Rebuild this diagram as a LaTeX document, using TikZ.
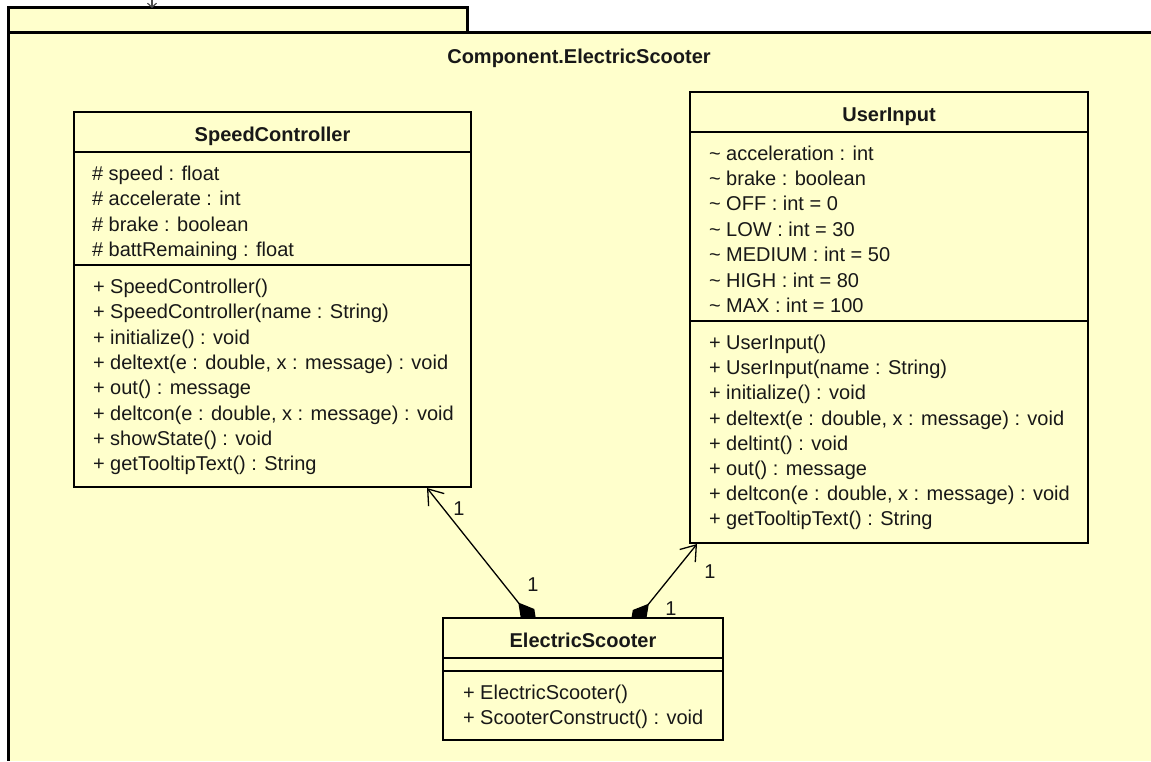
\documentclass[tikz,border=0pt]{standalone}
\usepackage{fontspec}
\setmainfont{Liberation Sans}
\usetikzlibrary{arrows.meta,calc}
\definecolor{pkgfill}{RGB}{255,255,204}
\definecolor{ink}{RGB}{24,24,24}

\begin{document}
\begin{tikzpicture}[x=1pt,y=-1pt,
  every node/.style={inner sep=0pt, outer sep=0pt, text=ink},
  pkgbox/.style={draw=black, line width=3pt, fill=pkgfill, anchor=north west},
  pkgline/.style={draw=black, line width=3pt},
  classbox/.style={draw=black, line width=2.6pt, fill=pkgfill, anchor=north west},
  divider/.style={draw=black, line width=1.3pt},
  member/.style={anchor=base west, font=\fontsize{20}{24}\selectfont},
  classname/.style={anchor=base, font=\bfseries\fontsize{20}{24}\selectfont},
  mult/.style={anchor=center, font=\fontsize{20}{24}\selectfont},
  composition/.style={draw=black, line width=1.3pt,
    {Diamond[length=30pt,width=17pt,fill=black]}-{Straight Barb[length=14pt,width=20pt,line width=1.3pt]}}
]
\useasboundingbox (0,0) rectangle (1151,761);
\fill[white] (0,0) rectangle (1151,761);

% package frame: tab, then the body whose right and lower sides lie off the page
\node[pkgbox, minimum width=459.5pt, minimum height=24.5pt] (pkgtab) at (8,7.5) {};
\fill[pkgfill] (8,32) rectangle (1151,761);
\draw[pkgline] (1151,32) -- (8,32) -- (8,761);
\node[classname] (pkgname) at (579,63) {Component.ElectricScooter};

% incoming arrow tip on the tab, from outside
\coordinate (extsrc) at (152,-6);
\coordinate (exttip) at (152,8);
\draw[black!70, line width=1.2pt, -{Straight Barb[length=4pt,width=9pt]}] (extsrc) -- (exttip);

% ---------- SpeedController ----------
\node[classbox, minimum width=397pt, minimum height=375pt] (sc) at (74,112) {};
\node[classname] (scname) at (272.5,141) {SpeedController};
\draw[divider] (74,152) -- (471,152);
\draw[divider] (74,265) -- (471,265);
\foreach \t [count=\i from 0] in {{\# speed : float},{\# accelerate : int},{\# brake : boolean},{\# battRemaining : float}}
  \node[member] (sc-a\i) at (92,180.5+25.3*\i) {\t};
\foreach \t [count=\i from 0] in {{+ SpeedController()},{+ SpeedController(name : String)},{+ initialize() : void},{+ deltext(e : double, x : message) : void},{+ out() : message},{+ deltcon(e : double, x : message) : void},{+ showState() : void},{+ getTooltipText() : String}}
  \node[member] (sc-m\i) at (93,293.5+25.3*\i) {\t};

% ---------- UserInput ----------
\node[classbox, minimum width=398pt, minimum height=451pt] (ui) at (690,92) {};
\node[classname] (uiname) at (889,121) {UserInput};
\draw[divider] (690,132) -- (1088,132);
\draw[divider] (690,321) -- (1088,321);
\foreach \t [count=\i from 0] in {{\textasciitilde{} acceleration : int},{\textasciitilde{} brake : boolean},{\textasciitilde{} OFF : int = 0},{\textasciitilde{} LOW : int = 30},{\textasciitilde{} MEDIUM : int = 50},{\textasciitilde{} HIGH : int = 80},{\textasciitilde{} MAX : int = 100}}
  \node[member] (ui-a\i) at (709,160+25.4*\i) {\t};
\foreach \t [count=\i from 0] in {{+ UserInput()},{+ UserInput(name : String)},{+ initialize() : void},{+ deltext(e : double, x : message) : void},{+ deltint() : void},{+ out() : message},{+ deltcon(e : double, x : message) : void},{+ getTooltipText() : String}}
  \node[member] (ui-m\i) at (709,349.5+25.2*\i) {\t};

% ---------- compositions (diamond ends tuck under the ElectricScooter box) ----------
\coordinate (esL) at (537,626);
\coordinate (scFoot) at (427,488);
\coordinate (esR) at (630,627);
\coordinate (uiFoot) at (697,544);
\draw[composition] (esL) -- (scFoot);
\draw[composition] (esR) -- (uiFoot);
\node[mult] (m1) at (459,509) {1};
\node[mult] (m2) at (533,585) {1};
\node[mult] (m3) at (710,572) {1};
\node[mult] (m4) at (671,609) {1};

% ---------- ElectricScooter ----------
\node[classbox, minimum width=280pt, minimum height=122pt] (es) at (443,618) {};
\node[classname] (esname) at (583,647) {ElectricScooter};
\draw[divider] (443,658) -- (723,658);
\draw[divider] (443,671) -- (723,671);
\foreach \t [count=\i from 0] in {{+ ElectricScooter()},{+ ScooterConstruct() : void}}
  \node[member] (es-m\i) at (463,699+25*\i) {\t};
\end{tikzpicture}
\end{document}
